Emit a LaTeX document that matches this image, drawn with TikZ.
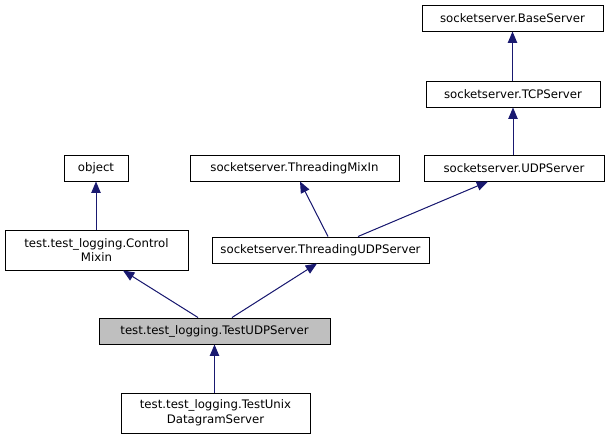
\documentclass[tikz,border=0pt]{standalone}
\usepackage{fontspec}
\setmainfont{DejaVu Sans}
\usetikzlibrary{arrows.meta,calc}
\definecolor{edgeblue}{RGB}{25,25,112}
\definecolor{curgray}{RGB}{191,191,191}
\tikzset{
  class node/.style={
    draw=black,
    fill=white,
    line width=0.75pt,
    inner sep=0pt,
    align=center,
    font=\fontsize{8.8pt}{11pt}\selectfont,
    minimum height=19.5pt
  },
  current/.style={fill=curgray},
  inherit/.style={{Triangle[length=8.5pt,width=7pt]}-,line width=0.75pt,draw=edgeblue,fill=edgeblue}
}

\begin{document}
\begin{tikzpicture}[x=0.75pt,y=-0.75pt]
  \useasboundingbox (0,0) rectangle (611,440);

  % base classes
  \node[class node,minimum width=135.75pt] (base) at (512.5,18) {socketserver.BaseServer};
  \node[class node,minimum width=130.5pt] (tcp) at (513,94) {socketserver.TCPServer};
  \node[class node,minimum width=135pt] (udp) at (514,168) {socketserver.UDPServer};
  \node[class node,minimum width=48pt] (object) at (96,168) {object};
  \node[class node,minimum width=156.75pt] (mixin) at (294.5,168) {socketserver.ThreadingMixIn};

  % middle row
  \node[class node,minimum width=137.25pt,minimum height=30pt] (control) at (96.5,250) {test.test\_logging.Control\\Mixin};
  \node[class node,minimum width=162.75pt] (thudp) at (320.5,250) {socketserver.ThreadingUDPServer};

  % current class and subclass
  \node[class node,current,minimum width=173.25pt] (test) at (214.5,331) {test.test\_logging.TestUDPServer};
  \node[class node,minimum width=141.75pt,minimum height=30pt] (unix) at (215.5,413) {test.test\_logging.TestUnix\\DatagramServer};

  \draw[inherit] (base.south) -- (tcp.north -| base.south);
  \draw[inherit] (tcp.south) -- (udp.north -| tcp.south);
  \draw[inherit] (object.south) -- (control.north -| object.south);
  \draw[inherit] ($(mixin.south)+(5.5,0)$) -- ($(thudp.north)+(7.5,0)$);
  \draw[inherit] ($(udp.south)+(-26,0)$) -- ($(thudp.north)+(37.5,0)$);
  \draw[inherit] ($(control.south)+(26.5,0)$) -- ($(test.north)+(-16.5,0)$);
  \draw[inherit] ($(thudp.south)+(-3.5,0)$) -- ($(test.north)+(17.5,0)$);
  \draw[inherit] (test.south) -- (unix.north -| test.south);
\end{tikzpicture}
\end{document}
